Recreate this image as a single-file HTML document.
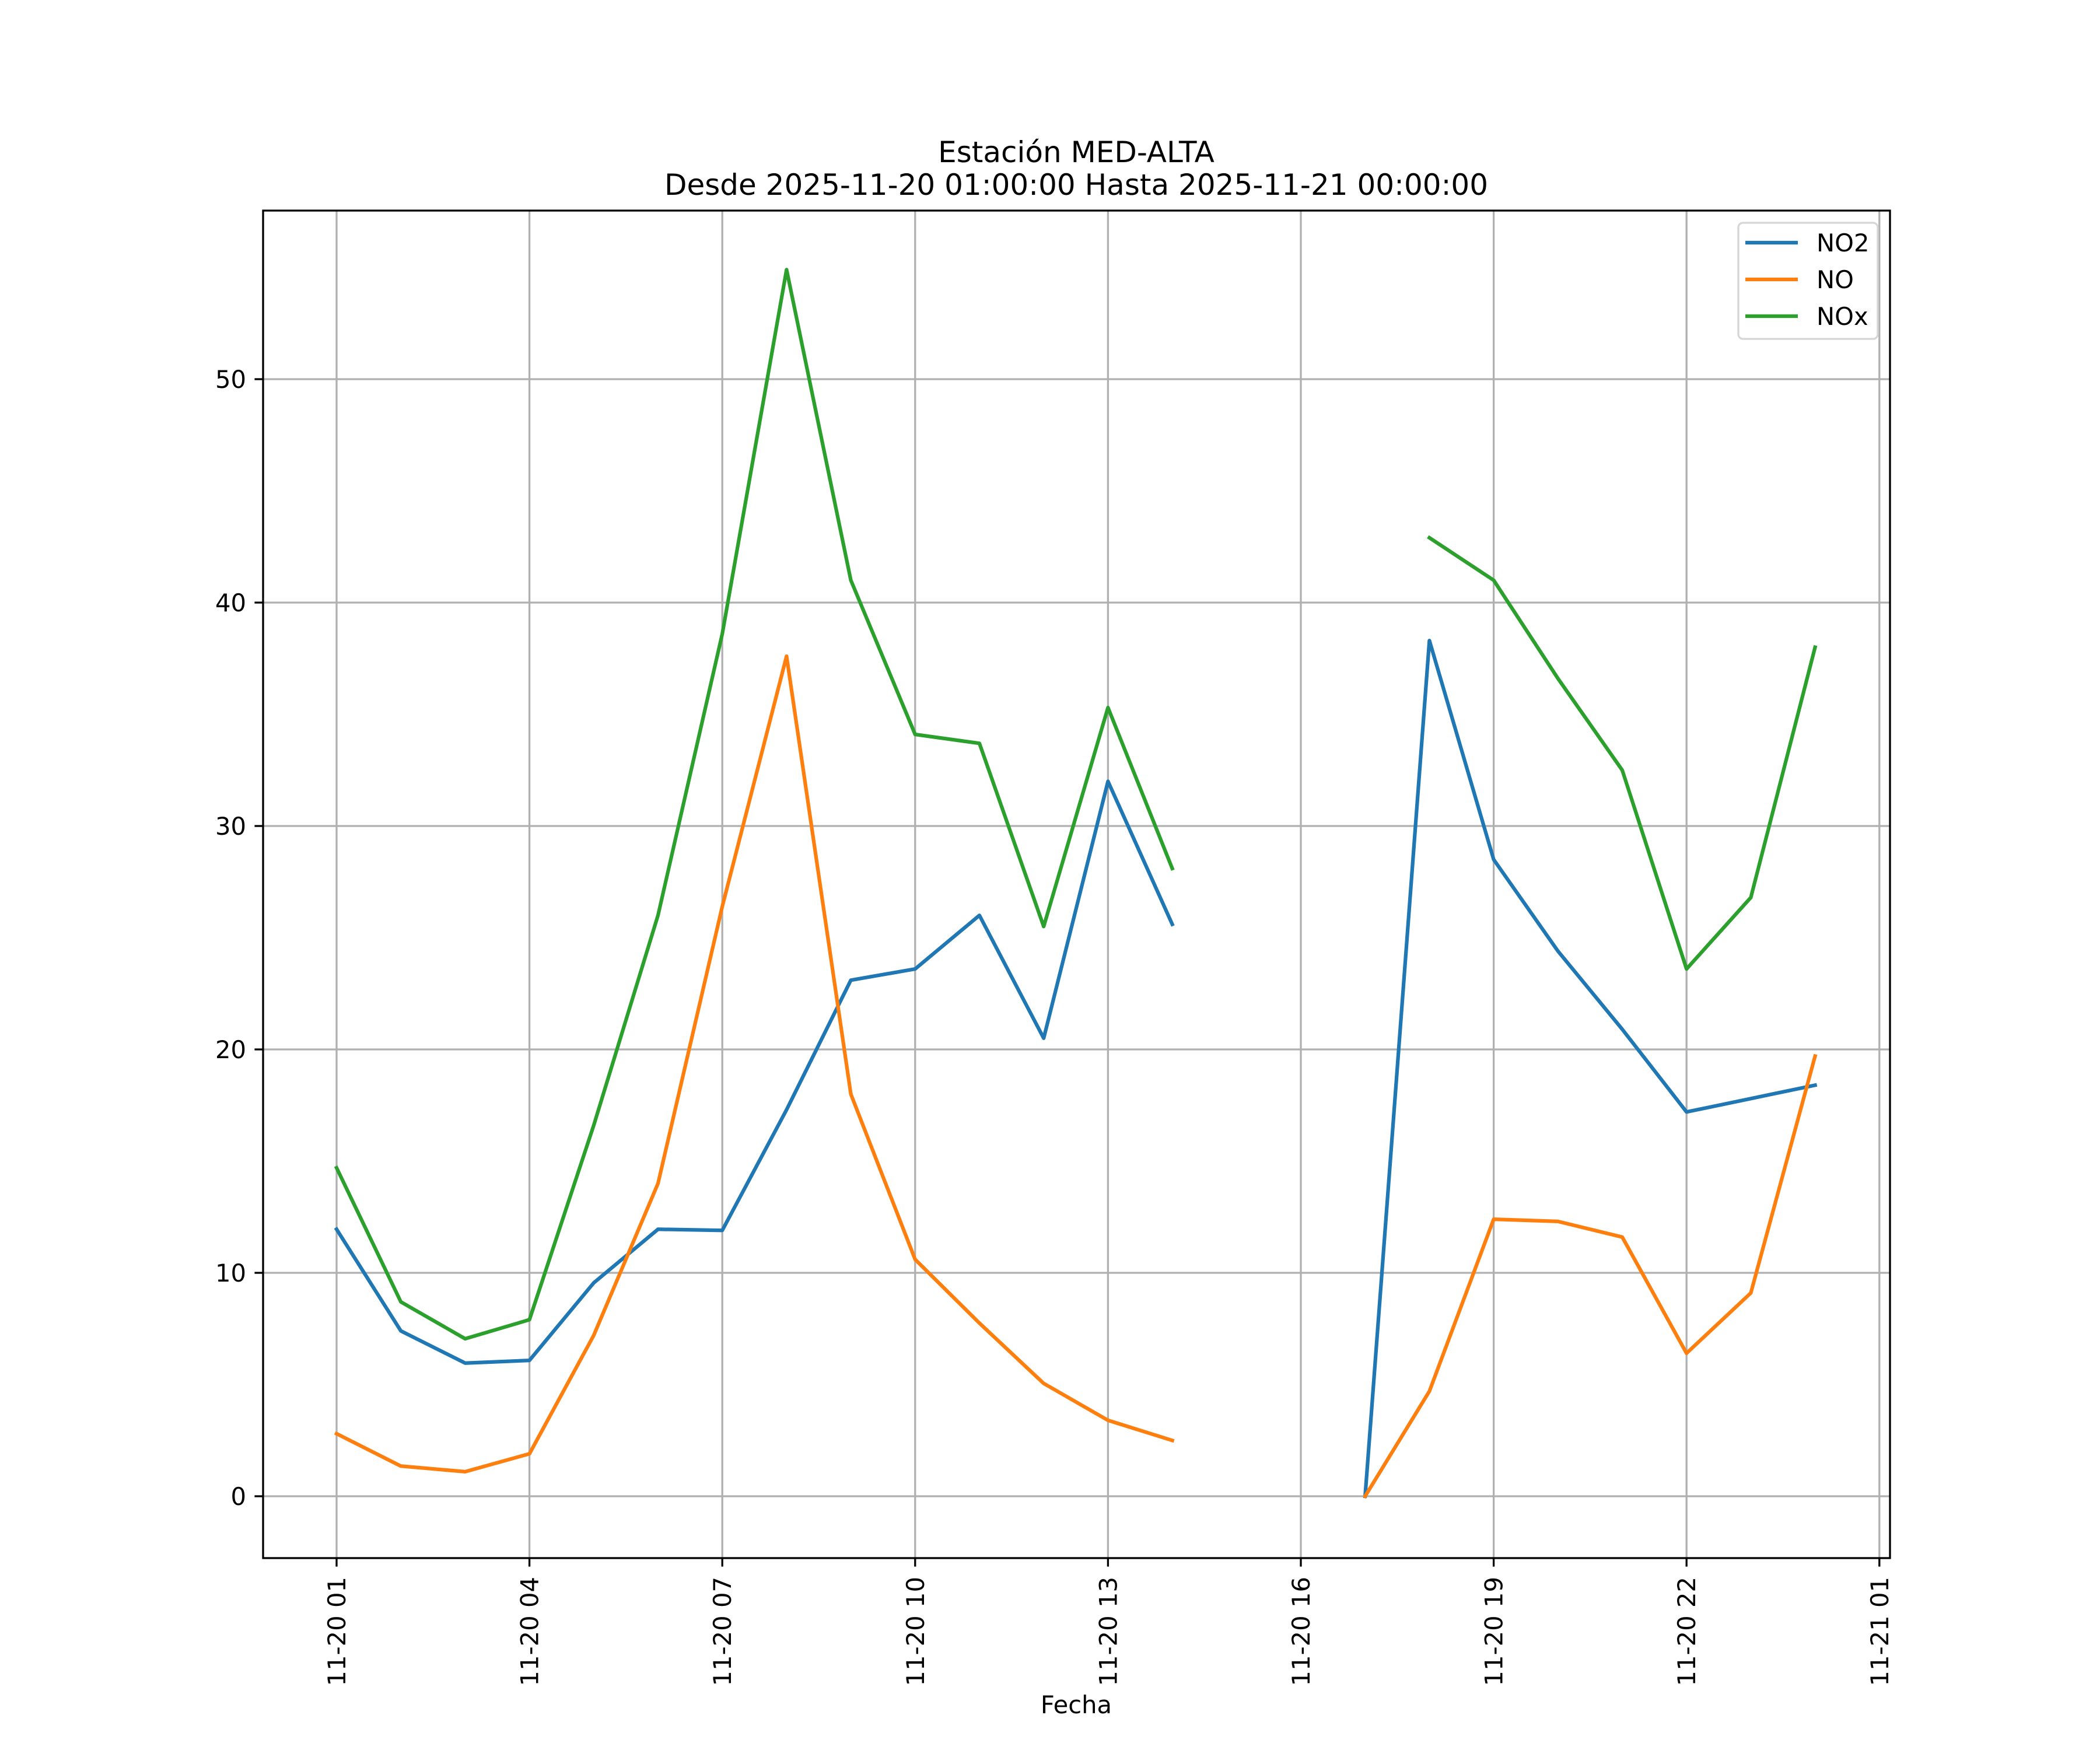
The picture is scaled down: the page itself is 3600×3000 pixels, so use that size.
<!DOCTYPE html>
<html><head><meta charset="utf-8"><style>
html,body{margin:0;padding:0;background:#fff}
svg{display:block;font-family:"DejaVu Sans","Liberation Sans",sans-serif}
</style></head><body>
<svg id="chart" width="3600" height="3000" viewBox="0 0 3600 3000" xmlns="http://www.w3.org/2000/svg">
<rect width="3600" height="3000" fill="#fff"/>
<text x="1845" y="278" font-size="50" text-anchor="middle">Estación MED-ALTA</text>
<text x="1845" y="334" font-size="50" text-anchor="middle">Desde 2025-11-20 01:00:00 Hasta 2025-11-21 00:00:00</text>
<text x="1845" y="2937" font-size="41.7" text-anchor="middle">Fecha</text>
<g id="grid"></g><g id="series"></g><g id="axes"></g>
</svg>
<script>
const hours = [1,2,3,4,5,6,7,8,9,10,11,12,13,14,15,16,17,18,19,20,21,22,23,24];
const no2 = [11.95,7.4,5.96,6.08,9.55,11.95,11.9,17.3,23.1,23.6,26.0,20.5,32.0,25.6,null,null,0,38.3,28.5,24.4,20.9,17.2,17.8,18.4];
const no = [2.8,1.35,1.1,1.9,7.2,14.0,26.4,37.6,18.0,10.6,7.75,5.05,3.4,2.5,null,null,0,4.7,12.4,12.3,11.6,6.4,9.1,19.7];
const nox = [14.7,8.7,7.05,7.9,16.6,26.0,38.6,54.9,41.0,34.1,33.7,25.5,35.3,28.1,null,null,null,42.9,41.0,36.6,32.5,23.6,26.8,38.0];
const yTicks = [0,10,20,30,40,50];
const xTickHours = [1,4,7,10,13,16,19,22,25];
const xTickLabels = ["11-20 01","11-20 04","11-20 07","11-20 10","11-20 13","11-20 16","11-20 19","11-20 22","11-21 01"];
const seriesNames = ["NO2","NO","NOx"];

const NS="http://www.w3.org/2000/svg";
const L=451,R=3240,T=361,B=2671;
const xs=h=>577+(h-1)*110.2;
const ys=v=>2565-v*38.3;
function mk(tag,attrs,parent){const e=document.createElementNS(NS,tag);for(const k in attrs)e.setAttribute(k,attrs[k]);parent.appendChild(e);return e;}
const grid=document.getElementById('grid'),axes=document.getElementById('axes'),ser=document.getElementById('series');
yTicks.forEach(v=>{
  const g=mk('line',{x1:L,x2:R,y1:ys(v),y2:ys(v),stroke:'#b0b0b0','stroke-width':3.3},grid);
  
  
  const t=mk('line',{x1:L-14.6,x2:L,y1:ys(v),y2:ys(v),stroke:'#000','stroke-width':3.3},axes);
  
  
  const lb=mk('text',{x:L-29,y:ys(v)+15,'font-size':41.7,'text-anchor':'end'},axes);
  lb.textContent=v;
  
  
});
xTickHours.forEach((h,i)=>{
  const x=xs(h);
  const g=mk('line',{x1:x,x2:x,y1:T,y2:B,stroke:'#b0b0b0','stroke-width':3.3},grid);
  
  
  const t=mk('line',{x1:x,x2:x,y1:B,y2:B+14.6,stroke:'#000','stroke-width':3.3},axes);
  
  
  const lb=mk('text',{x:0,y:0,'font-size':41.7,'text-anchor':'end',transform:`translate(${x+15},${B+32}) rotate(-90)`},axes);
  lb.textContent=xTickLabels[i];
  
  
});
const sp=mk('rect',{x:L,y:T,width:R-L,height:B-T,fill:'none',stroke:'#000','stroke-width':3.3},axes);


const colors=['#1f77b4','#ff7f0e','#2ca02c'];
[no2,no,nox].forEach((arr,si)=>{
  let d='',pen=false;
  arr.forEach((v,i)=>{
    if(v===null){pen=false;return;}
    d+=(pen?'L':'M')+xs(hours[i]).toFixed(1)+' '+ys(v).toFixed(1)+' ';pen=true;
  });
  const p=mk('path',{d:d,fill:'none',stroke:colors[si],'stroke-width':6.25,'stroke-linejoin':'round','stroke-linecap':'square'},ser);
  
  
});
const lg=mk('g',{},axes);


mk('rect',{x:2980,y:382,width:239,height:199,rx:8,fill:'#fff','fill-opacity':0.8,stroke:'#d6d6d6','stroke-width':3.3},lg);
seriesNames.forEach((n,i)=>{
  const y=416+i*63;
  const ln=mk('line',{x1:2992,x2:3082,y1:y,y2:y,stroke:colors[i],'stroke-width':6.25},lg);
  
  
  const t=mk('text',{x:3114,y:y+15,'font-size':41.7},lg);
  t.textContent=n;
  
  
});
</script>
</body></html>
